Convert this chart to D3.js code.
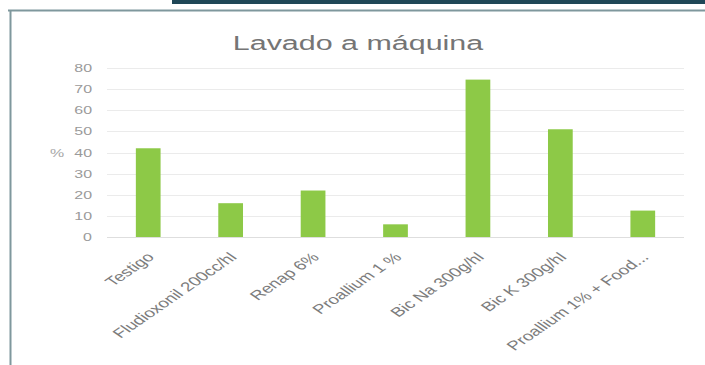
<!DOCTYPE html>
<html>
<head>
<meta charset="utf-8">
<script src="https://cdn.jsdelivr.net/npm/d3@7"></script>
<style>
  html, body { margin: 0; padding: 0; background: #fff; }
  svg { display: block; font-family: "Liberation Sans", Arial, sans-serif; }
</style>
</head>
<body>
<svg id="chart" width="705" height="365"></svg>
<script>
// Treatments and the share (%) measured for each
const categories = [
  "Testigo",
  "Fludioxonil 200cc/hl",
  "Renap 6%",
  "Proallium 1 %",
  "Bic Na 300g/hl",
  "Bic K 300g/hl",
  "Proallium 1% + Food..."
];
const values = [42, 16, 22, 6, 74.5, 51, 12.5];
const yTicks = [0, 10, 20, 30, 40, 50, 60, 70, 80];
const titleText = "Lavado a máquina";
const yAxisLabel = "%";

// Text is drawn with a horizontal stretch
const SX = 1.45;

const svg = d3.select("#chart");

// panel frame and header strip
svg.append("rect")
  .attr("x", 172).attr("y", 0).attr("width", 533).attr("height", 4)
  .attr("fill", "#1f4757");
svg.append("path")
  .attr("d", "M8,10.5 H705 M10.5,10 V365")
  .attr("fill", "none")
  .attr("stroke", "#7f989d")
  .attr("stroke-width", 2);

const x = d3.scaleBand()
  .domain(categories)
  .range([107, 684])
  .paddingInner(0.7)
  .paddingOuter(0.35);

const y = d3.scaleLinear()
  .domain([0, 80])
  .range([237, 68]);

// gridlines
svg.append("g")
  .selectAll("line")
  .data(yTicks)
  .join("line")
  .attr("x1", 107).attr("x2", 684)
  .attr("y1", d => Math.round(y(d)) + 0.5)
  .attr("y2", d => Math.round(y(d)) + 0.5)
  .attr("stroke", d => d === 0 ? "#dedede" : "#ebebeb")
  .attr("stroke-width", 1);

// y tick labels
svg.append("g")
  .selectAll("text")
  .data(yTicks)
  .join("text")
  .attr("transform", d => `translate(92,${y(d) + 4}) scale(${SX},1)`)
  .attr("text-anchor", "end")
  .attr("font-size", 11)
  .attr("fill", "#9a9a9a")
  .text(d => d);

// y axis title
svg.append("text")
  .attr("transform", `translate(57,${y(40) + 4}) scale(${SX},1)`)
  .attr("text-anchor", "middle")
  .attr("font-size", 11)
  .attr("fill", "#a8a8a8")
  .text(yAxisLabel);

// bars
svg.append("g")
  .selectAll("rect")
  .data(values)
  .join("rect")
  .attr("x", (d, i) => x(categories[i]))
  .attr("width", x.bandwidth())
  .attr("y", d => y(d))
  .attr("height", d => y(0) - y(d))
  .attr("fill", "#8dc947");

// category labels
svg.append("g")
  .selectAll("text")
  .data(categories)
  .join("text")
  .attr("transform", d => `translate(${x(d) + x.bandwidth() / 2 + 7},258) scale(${SX},1) rotate(-45)`)
  .attr("text-anchor", "end")
  .attr("font-size", 13)
  .attr("fill", "#7c7c7c")
  .text(d => d);

// chart title
svg.append("text")
  .attr("transform", `translate(358,50) scale(${SX},1)`)
  .attr("text-anchor", "middle")
  .attr("font-size", 21)
  .attr("fill", "#757575")
  .text(titleText);
</script>
</body>
</html>
